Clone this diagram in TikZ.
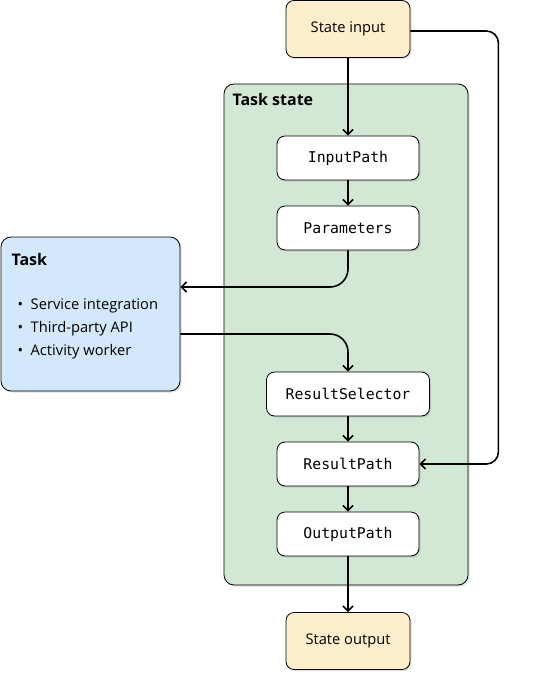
\documentclass[tikz,border=0pt]{standalone}
\usepackage{fontspec}
\setmainfont{Open Sans}
\setmonofont{DejaVu Sans Mono}
\usepackage{tikz}
\usetikzlibrary{arrows.meta,positioning,shadows}
\definecolor{stateyellow}{RGB}{253,239,204}
\definecolor{taskgreen}{RGB}{211,232,212}
\definecolor{taskblue}{RGB}{212,232,252}

\begin{document}
\begin{tikzpicture}[x=1pt,y=-1pt,
    box/.style={draw=black,line width=0.8pt,rounded corners=8pt,
        drop shadow={shadow xshift=1.5pt,shadow yshift=-1.5pt,opacity=0.25},
        align=center,inner sep=0pt},
    field/.style={box,fill=white,minimum width=142pt,minimum height=44pt,
        font=\ttfamily\fontsize{14.8}{17}\selectfont},
    io/.style={box,fill=stateyellow,minimum width=124pt,minimum height=57pt,
        font=\fontsize{14.7}{17}\selectfont},
    flow/.style={line width=1.6pt,-{Straight Barb[length=5pt,width=10pt,line width=1.6pt]}}]
    \useasboundingbox (0,0) rectangle (556,679);

    % Task state container
    \node[box,fill=taskgreen,rounded corners=10pt,minimum width=244pt,minimum height=501pt]
        (tstate) at (346,334.5) {};
    \node[anchor=west,font=\bfseries\fontsize{16}{19}\selectfont] (tstatelbl) at (229,100) {Task state};

    % Input and output
    \node[io] (sin) at (348,29) {State input};
    \node[io] (sout) at (348,641) {State output};

    % Fields
    \node[field] (inpath) at (348,158) {InputPath};
    \node[field] (params) at (348,228) {Parameters};
    \node[field,minimum width=163pt] (rsel) at (348,394) {ResultSelector};
    \node[field] (rpath) at (348,464) {ResultPath};
    \node[field] (outpath) at (348,534) {OutputPath};

    % Task
    \node[box,fill=taskblue,rounded corners=10pt,minimum width=179pt,minimum height=154pt]
        (task) at (90.5,314) {};
    \node[anchor=west,font=\bfseries\fontsize{16}{19}\selectfont] (tasklbl) at (8,259) {Task};
    \node[anchor=north west,align=left,font=\fontsize{14.7}{23}\selectfont] (tasklist) at (14,295)
        {\textbullet\ \ Service integration\\\textbullet\ \ Third-party API\\\textbullet\ \ Activity worker};

    % Connectors
    \draw[flow] (sin) -- (inpath);
    \draw[flow] (inpath) -- (params);
    \draw[flow,rounded corners=18pt] (params.south) |- ([yshift=27pt]task.east);
    \draw[flow,rounded corners=18pt] ([yshift=-20pt]task.east) -| (rsel.north);
    \draw[flow] (rsel) -- (rpath);
    \draw[flow,rounded corners=12pt] ([yshift=-2pt]sin.east) -| ([xshift=79pt]rpath.east) -- (rpath.east);
    \draw[flow] (rpath) -- (outpath);
    \draw[flow] (outpath) -- (sout);
\end{tikzpicture}
\end{document}
